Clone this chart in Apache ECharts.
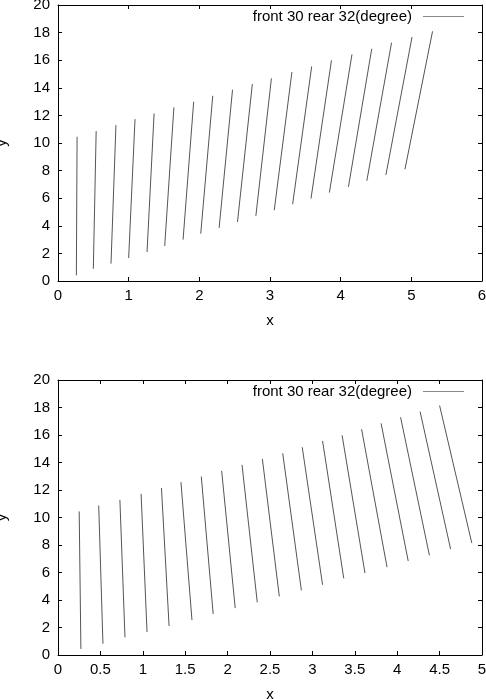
<!DOCTYPE html>
<html>
<head>
<meta charset="utf-8" />
<script src="https://cdn.jsdelivr.net/npm/echarts@6/dist/echarts.min.js" type="text/javascript" charset="utf-8"></script>
<title>front 30 rear 32</title>
<style>
html, body { margin: 0; padding: 0; background: #fff; }
</style>
</head>
<body>
<div id="main" style="width: 486px;height:699px;"></div>
</body>
<script type="text/javascript">
// segment start / end points, upper panel
var topX0 = [0.26, 0.50, 0.75, 1.00, 1.26, 1.51, 1.77, 2.02, 2.28, 2.54, 2.80, 3.06, 3.32, 3.58, 3.84, 4.11, 4.37, 4.64, 4.91];
var topY0 = [0.41, 0.89, 1.26, 1.67, 2.10, 2.54, 3.00, 3.43, 3.85, 4.28, 4.72, 5.13, 5.56, 5.97, 6.41, 6.82, 7.26, 7.69, 8.10];
var topX1 = [0.27, 0.54, 0.82, 1.09, 1.36, 1.64, 1.92, 2.19, 2.47, 2.75, 3.02, 3.31, 3.59, 3.87, 4.16, 4.44, 4.72, 5.01, 5.30];
var topY1 = [10.45, 10.86, 11.29, 11.73, 12.14, 12.58, 12.99, 13.42, 13.86, 14.27, 14.68, 15.14, 15.55, 15.99, 16.42, 16.83, 17.27, 17.68, 18.09];
// lower panel
var botX0 = [0.25, 0.48, 0.73, 0.98, 1.22, 1.45, 1.69, 1.93, 2.17, 2.41, 2.65, 2.88, 3.12, 3.35, 3.58, 3.81, 4.04, 4.27, 4.50];
var botY0 = [10.44, 10.87, 11.28, 11.72, 12.15, 12.57, 12.98, 13.39, 13.83, 14.26, 14.67, 15.11, 15.57, 15.98, 16.42, 16.85, 17.29, 17.70, 18.14];
var botX1 = [0.27, 0.53, 0.79, 1.05, 1.31, 1.58, 1.83, 2.09, 2.35, 2.61, 2.87, 3.12, 3.37, 3.62, 3.88, 4.13, 4.38, 4.63, 4.88];
var botY1 = [0.44, 0.82, 1.28, 1.67, 2.11, 2.54, 2.98, 3.41, 3.83, 4.26, 4.70, 5.11, 5.57, 5.96, 6.39, 6.83, 7.24, 7.70, 8.14];
var seriesName = 'front 30 rear 32(degree)';

function segs(x0, y0, x1, y1) {
  var out = [];
  for (var i = 0; i < x0.length; i++) {
    out.push({ coords: [[x0[i], y0[i]], [x1[i], y1[i]]] });
  }
  return out;
}

var font = 'Liberation Sans';
var lbl = { color: '#000', fontFamily: font, fontSize: 15 };
var axLine = { onZero: false, lineStyle: { color: '#000', width: 1 } };
var axTick = { inside: true, length: 4, lineStyle: { color: '#000' } };

function xAxes(gi, max, interval, gap) {
  return [{
    gridIndex: gi, type: 'value', min: 0, max: max, interval: interval, position: 'bottom',
    name: 'x', nameLocation: 'middle', nameGap: gap,
    nameTextStyle: lbl,
    axisLine: axLine, axisTick: axTick,
    axisLabel: Object.assign({ margin: 7 }, lbl),
    splitLine: { show: false }
  }, {
    gridIndex: gi, type: 'value', min: 0, max: max, interval: interval, position: 'top',
    axisLine: axLine, axisTick: axTick,
    axisLabel: { show: false },
    splitLine: { show: false }
  }];
}
function yAxes(gi) {
  return [{
    gridIndex: gi, type: 'value', min: 0, max: 20, interval: 2, position: 'left',
    name: 'y', nameLocation: 'middle', nameGap: 49,
    nameTextStyle: lbl,
    axisLine: axLine, axisTick: axTick,
    axisLabel: Object.assign({ margin: 8 }, lbl),
    splitLine: { show: false }
  }, {
    gridIndex: gi, type: 'value', min: 0, max: 20, interval: 2, position: 'right',
    axisLine: axLine, axisTick: axTick,
    axisLabel: { show: false },
    splitLine: { show: false }
  }];
}

var legendBase = {
  data: [seriesName], align: 'right', icon: 'rect', itemWidth: 41, itemHeight: 1,
  right: 22, padding: 0,
  itemStyle: { color: '#888', borderWidth: 0 },
  lineStyle: { width: 1, color: '#888' },
  textStyle: { color: '#000', fontFamily: font, fontSize: 15, padding: [0, 6, 0, 0] }
};

var dom = document.getElementById('main');
var myChart = echarts.init(dom, null, { renderer: 'canvas' });
var lineStyle = { color: '#555', width: 1, opacity: 1 };
var option = {
  animation: false,
  backgroundColor: '#fff',
  grid: [
    { left: 58, right: 4, top: 5, height: 276, outerBoundsMode: 'none', containLabel: false },
    { left: 58, right: 4, top: 380, height: 275, outerBoundsMode: 'none', containLabel: false }
  ],
  legend: [
    Object.assign({ top: 9 }, legendBase),
    Object.assign({ top: 384 }, legendBase)
  ],
  xAxis: xAxes(0, 6, 1, 32).concat(xAxes(1, 5, 0.5, 32)),
  yAxis: yAxes(0).concat(yAxes(1)),
  series: [{
    name: seriesName, type: 'lines', coordinateSystem: 'cartesian2d',
    xAxisIndex: 0, yAxisIndex: 0, polyline: false,
    lineStyle: lineStyle, itemStyle: { color: '#555' },
    data: segs(topX0, topY0, topX1, topY1)
  }, {
    name: seriesName, type: 'lines', coordinateSystem: 'cartesian2d',
    xAxisIndex: 2, yAxisIndex: 2, polyline: false,
    lineStyle: lineStyle, itemStyle: { color: '#555' },
    data: segs(botX0, botY0, botX1, botY1)
  }]
};
myChart.setOption(option);
</script>
</html>
